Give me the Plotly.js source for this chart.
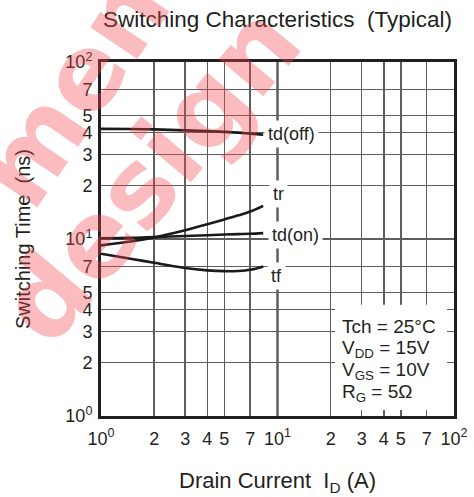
<!DOCTYPE html>
<html>
<head>
<meta charset="utf-8">
<script src="https://cdn.plot.ly/plotly-3.0.1.min.js"></script>
<style>html,body{margin:0;padding:0;background:#fff;}#chart{width:474px;height:497px;}</style>
</head>
<body>
<div id="chart"></div>
<script>
// ---- data ----
const drainCurrent = [1, 1.5, 2, 3, 4, 5, 6, 7, 8.3];
const tdOff = [41.9, 41.8, 41.6, 41.1, 40.7, 40.3, 39.9, 39.4, 38.9];
const tRise = [9.2, 9.7, 10.2, 11.2, 12.1, 12.9, 13.6, 14.3, 15.4];
const tdOn = [10.1, 10.15, 10.25, 10.4, 10.5, 10.6, 10.65, 10.7, 10.8];
const tFall = [8.25, 7.7, 7.35, 6.85, 6.65, 6.58, 6.6, 6.7, 7.0];

const tickVals = [1, 2, 3, 4, 5, 7, 10, 20, 30, 40, 50, 70, 100];
const tickText = ['10<sup>0</sup>', '2', '3', '4', '5', '7', '10<sup>1</sup>', '2', '3', '4', '5', '7', '10<sup>2</sup>'];
const seriesNames = ['td(off)', 'tr', 'td(on)', 'tf'];
const conditions = ['Tch = 25°C', 'V<sub>DD</sub> = 15V', 'V<sub>GS</sub> = 10V', 'R<sub>G</sub> = 5Ω'];

const FONT = 'Arial, "Liberation Sans", Helvetica, sans-serif';
const WMFONT = '"DejaVu Sans", Arial, sans-serif';
const INK = '#231f20';

const seriesData = [tdOff, tRise, tdOn, tFall];
const traces = seriesData.map((ys, i) => ({
  x: drainCurrent, y: ys, type: 'scatter', mode: 'lines', name: seriesNames[i],
  line: {color: '#1a1a1a', width: 2.6, shape: 'spline', smoothing: 1},
  hoverinfo: 'skip'
}));

// label positions in paper units
const labelPos = [[0.541, 0.797], [0.502, 0.627], [0.552, 0.511], [0.496, 0.395]];
const annotations = seriesNames.map((n, i) => ({
  xref: 'paper', yref: 'paper', x: labelPos[i][0], y: labelPos[i][1],
  xanchor: 'center', yanchor: 'middle',
  text: n, showarrow: false, bgcolor: '#ffffff', borderpad: 3,
  font: {family: FONT, size: 18, color: INK}
}));
const condY = [0.252, 0.188, 0.128, 0.066];
conditions.forEach((c, i) => annotations.push({
  xref: 'paper', yref: 'paper', x: 0.676, y: condY[i], xanchor: 'left', yanchor: 'middle',
  text: c, showarrow: false, font: {family: FONT, size: 19, color: INK}
}));
// watermark
const WM = 'rgba(240,70,75,0.36)';
annotations.push({xref: 'paper', yref: 'paper', x: 0.139, y: 0.681, xanchor: 'center', yanchor: 'middle',
  text: '<b>design</b>', textangle: -50,
  showarrow: false, font: {family: WMFONT, size: 106, color: WM}});
annotations.push({xref: 'paper', yref: 'paper', x: 0.059, y: 1.124, xanchor: 'center', yanchor: 'middle',
  text: '<b>mentor</b>', textangle: -56,
  showarrow: false, font: {family: WMFONT, size: 104, color: WM}});

const axisCommon = {
  type: 'log', range: [0, 2], tickmode: 'array', tickvals: tickVals, ticktext: tickText,
  showgrid: true, gridcolor: '#5e5e5e', gridwidth: 1.5, zeroline: false,
  showline: true, mirror: true, linecolor: '#231f20', linewidth: 3,
  ticks: '', tickfont: {family: FONT, size: 18, color: INK}, automargin: false
};

const layout = {
  width: 474, height: 497,
  margin: {l: 101, r: 20, t: 62, b: 81, pad: 0},
  paper_bgcolor: '#ffffff', plot_bgcolor: '#ffffff', showlegend: false,
  title: {text: 'Switching Characteristics \u00a0(Typical)', x: 0.5, xref: 'paper', xanchor: 'center',
    y: 1 - 19 / 497, yref: 'container', yanchor: 'middle', font: {family: FONT, size: 22.5, color: INK}},
  xaxis: Object.assign({}, axisCommon, {
    ticklabelstandoff: 4,
    title: {text: 'Drain Current \u00a0I<sub>D</sub> (A)', standoff: 26, font: {family: FONT, size: 22, color: INK}}
  }),
  yaxis: Object.assign({}, axisCommon, {
    ticklabelstandoff: 2,
    title: {text: 'Switching Time \u00a0(ns)', standoff: 30, font: {family: FONT, size: 20, color: INK}}
  }),
  shapes: [
    {type: 'line', xref: 'paper', yref: 'paper', x0: 0.5, x1: 0.5, y0: 0, y1: 1, line: {color: '#111', width: 2}, layer: 'below'},
    {type: 'line', xref: 'paper', yref: 'paper', x0: 0, x1: 1, y0: 0.5, y1: 0.5, line: {color: '#111', width: 2}, layer: 'below'},
    {type: 'rect', xref: 'paper', yref: 'paper', x0: 0.663, x1: 0.98, y0: 0.017, y1: 0.314, fillcolor: '#ffffff', line: {width: 0}, layer: 'above'}
  ],
  annotations: annotations
};

Plotly.newPlot('chart', traces, layout, {staticPlot: true, displayModeBar: false});
</script>
</body>
</html>
